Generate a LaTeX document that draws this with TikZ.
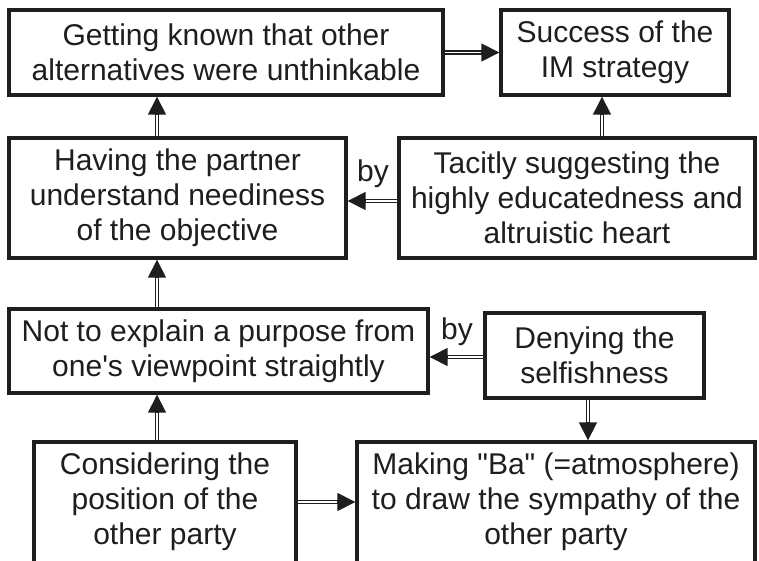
\documentclass[tikz,border=0pt]{standalone}
\usepackage{fontspec}
\setmainfont{Liberation Sans}[Ligatures=TeXOff]
\usetikzlibrary{arrows.meta,calc}
\definecolor{ink}{RGB}{30,30,30}
\tikzset{
  box/.style={draw=ink, line width=3.4pt, inner sep=0pt, align=center, fill=white,
    text=ink, font=\fontsize{30}{35}\selectfont},
  txt/.style={inner sep=0pt, align=center, text=ink, font=\fontsize{30}{35}\selectfont},
  lbl/.style={inner sep=0pt, text=ink, font=\fontsize{30}{35}\selectfont},
  tiphead/.style={draw=ink, fill=ink, line width=1.5pt, -{Triangle[length=18pt,width=18pt]}},
  shaft/.style={draw=ink, double=white, double distance=1.8pt, line width=1.5pt, shorten >=17pt}
}
\newcommand{\dblarrow}[2]{%
  \draw[shaft] #1 -- #2;
  \draw[tiphead] ($#2!18pt!#1$) -- #2;}
\begin{document}
\begin{tikzpicture}[x=1pt,y=-1pt]
\useasboundingbox (0,0) rectangle (759,560);
\clip (0,0) rectangle (759,560);
\fill[white] (0,0) rectangle (759,560);
% boxes
\node[box, minimum width=434, minimum height=85] (b1) at (226,52.5) {Getting known that other\\alternatives were unthinkable};
\node[box, minimum width=228, minimum height=85] (b2) at (615,52.5) {Success of the\\IM strategy};
\node[box, minimum width=337, minimum height=120] (b3) at (177.5,198) {Having the partner\\understand neediness\\of the objective};
\node[box, minimum width=356, minimum height=120] (b4) at (577,198) {Tacitly suggesting the\\highly educatedness and\\altruistic heart};
\node[box, minimum width=419, minimum height=84] (b5) at (218.5,351) {Not to explain a purpose from\\one's viewpoint straightly};
\node[box, minimum width=219, minimum height=85] (b6) at (594.5,355.5) {Denying the\\selfishness};
\node[box, minimum width=262, minimum height=140] (b7) at (165,512) {};
\node[box, minimum width=398, minimum height=140] (b8) at (556,512) {};
\node[txt] (t7) at (165,502) {Considering the\\position of the\\other party};
\node[txt] (t8) at (556,502) {Making "Ba" (=atmosphere)\\to draw the sympathy of the\\other party};
% labels
\node[lbl] (by1) at (373,174) {by};
\node[lbl] (by2) at (457,332) {by};
% guide coordinates
\coordinate (xl) at (157,0);
\coordinate (xr) at (602,0);
\coordinate (xd) at (588,0);
\coordinate (y1) at (0,201);
\coordinate (y2) at (0,357);
\coordinate (y3) at (0,502);
% arrows
\dblarrow{(b1.east)}{(b2.west)}
\dblarrow{(xl |- b3.north)}{(xl |- b1.south)}
\dblarrow{(xr |- b4.north)}{(xr |- b2.south)}
\dblarrow{(b4.west |- y1)}{(b3.east |- y1)}
\dblarrow{(xl |- b5.north)}{(xl |- b3.south)}
\dblarrow{(b6.west |- y2)}{(b5.east |- y2)}
\dblarrow{(xd |- b6.south)}{(xd |- b8.north)}
\dblarrow{(xl |- b7.north)}{(xl |- b5.south)}
\dblarrow{(b7.east |- y3)}{(b8.west |- y3)}
\end{tikzpicture}
\end{document}
